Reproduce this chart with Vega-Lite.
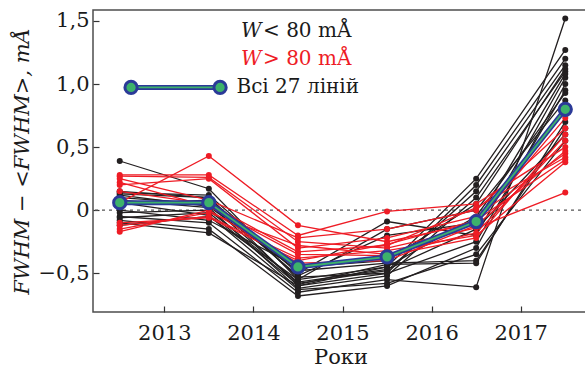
{
  "$schema": "https://vega.github.io/schema/vega-lite/v6.json",
  "autosize": "none",
  "width": 495,
  "height": 302,
  "padding": {"left": 93, "top": 10, "right": 0, "bottom": 60},
  "background": "white",
  "config": {
    "view": {"stroke": "#4d4d4d", "strokeWidth": 1.5},
    "font": "DejaVu Serif",
    "axis": {"grid": false, "domain": false, "tickColor": "#333", "tickSize": -6, "tickWidth": 1.2,
      "labelFont": "DejaVu Serif", "labelFontSize": 21, "labelColor": "#1a1a1a",
      "titleFont": "DejaVu Serif", "titleFontSize": 21, "titleColor": "#1a1a1a", "titleFontWeight": "normal"}
  },
  "datasets": {
    "lines": [
      {"l": "B1", "g": "lt", "x": 2012.5, "v": 0.39}, {"l": "B1", "g": "lt", "x": 2013.5, "v": 0.17}, {"l": "B1", "g": "lt", "x": 2014.5, "v": -0.55}, {"l": "B1", "g": "lt", "x": 2015.5, "v": -0.45}, {"l": "B1", "g": "lt", "x": 2016.5, "v": 0.25}, {"l": "B1", "g": "lt", "x": 2017.5, "v": 1.27},
      {"l": "B2", "g": "lt", "x": 2012.5, "v": 0.13}, {"l": "B2", "g": "lt", "x": 2013.5, "v": 0.10}, {"l": "B2", "g": "lt", "x": 2014.5, "v": -0.60}, {"l": "B2", "g": "lt", "x": 2015.5, "v": -0.50}, {"l": "B2", "g": "lt", "x": 2016.5, "v": 0.20}, {"l": "B2", "g": "lt", "x": 2017.5, "v": 1.20},
      {"l": "B3", "g": "lt", "x": 2012.5, "v": 0.10}, {"l": "B3", "g": "lt", "x": 2013.5, "v": 0.05}, {"l": "B3", "g": "lt", "x": 2014.5, "v": -0.58}, {"l": "B3", "g": "lt", "x": 2015.5, "v": -0.48}, {"l": "B3", "g": "lt", "x": 2016.5, "v": 0.15}, {"l": "B3", "g": "lt", "x": 2017.5, "v": 1.15},
      {"l": "B4", "g": "lt", "x": 2012.5, "v": 0.08}, {"l": "B4", "g": "lt", "x": 2013.5, "v": 0.02}, {"l": "B4", "g": "lt", "x": 2014.5, "v": -0.62}, {"l": "B4", "g": "lt", "x": 2015.5, "v": -0.52}, {"l": "B4", "g": "lt", "x": 2016.5, "v": 0.10}, {"l": "B4", "g": "lt", "x": 2017.5, "v": 1.10},
      {"l": "B5", "g": "lt", "x": 2012.5, "v": 0.14}, {"l": "B5", "g": "lt", "x": 2013.5, "v": 0.12}, {"l": "B5", "g": "lt", "x": 2014.5, "v": -0.50}, {"l": "B5", "g": "lt", "x": 2015.5, "v": -0.09}, {"l": "B5", "g": "lt", "x": 2016.5, "v": -0.20}, {"l": "B5", "g": "lt", "x": 2017.5, "v": 1.05},
      {"l": "B6", "g": "lt", "x": 2012.5, "v": -0.05}, {"l": "B6", "g": "lt", "x": 2013.5, "v": -0.10}, {"l": "B6", "g": "lt", "x": 2014.5, "v": -0.65}, {"l": "B6", "g": "lt", "x": 2015.5, "v": -0.55}, {"l": "B6", "g": "lt", "x": 2016.5, "v": -0.61}, {"l": "B6", "g": "lt", "x": 2017.5, "v": 1.52},
      {"l": "B7", "g": "lt", "x": 2012.5, "v": -0.08}, {"l": "B7", "g": "lt", "x": 2013.5, "v": -0.15}, {"l": "B7", "g": "lt", "x": 2014.5, "v": -0.68}, {"l": "B7", "g": "lt", "x": 2015.5, "v": -0.60}, {"l": "B7", "g": "lt", "x": 2016.5, "v": -0.30}, {"l": "B7", "g": "lt", "x": 2017.5, "v": 1.00},
      {"l": "B8", "g": "lt", "x": 2012.5, "v": -0.10}, {"l": "B8", "g": "lt", "x": 2013.5, "v": -0.18}, {"l": "B8", "g": "lt", "x": 2014.5, "v": -0.60}, {"l": "B8", "g": "lt", "x": 2015.5, "v": -0.45}, {"l": "B8", "g": "lt", "x": 2016.5, "v": -0.05}, {"l": "B8", "g": "lt", "x": 2017.5, "v": 0.93},
      {"l": "B9", "g": "lt", "x": 2012.5, "v": -0.12}, {"l": "B9", "g": "lt", "x": 2013.5, "v": -0.05}, {"l": "B9", "g": "lt", "x": 2014.5, "v": -0.55}, {"l": "B9", "g": "lt", "x": 2015.5, "v": -0.15}, {"l": "B9", "g": "lt", "x": 2016.5, "v": 0.00}, {"l": "B9", "g": "lt", "x": 2017.5, "v": 0.87},
      {"l": "B10", "g": "lt", "x": 2012.5, "v": 0.05}, {"l": "B10", "g": "lt", "x": 2013.5, "v": 0.08}, {"l": "B10", "g": "lt", "x": 2014.5, "v": -0.52}, {"l": "B10", "g": "lt", "x": 2015.5, "v": -0.20}, {"l": "B10", "g": "lt", "x": 2016.5, "v": -0.10}, {"l": "B10", "g": "lt", "x": 2017.5, "v": 1.08},
      {"l": "B11", "g": "lt", "x": 2012.5, "v": 0.12}, {"l": "B11", "g": "lt", "x": 2013.5, "v": 0.03}, {"l": "B11", "g": "lt", "x": 2014.5, "v": -0.48}, {"l": "B11", "g": "lt", "x": 2015.5, "v": -0.42}, {"l": "B11", "g": "lt", "x": 2016.5, "v": -0.40}, {"l": "B11", "g": "lt", "x": 2017.5, "v": 0.65},
      {"l": "B12", "g": "lt", "x": 2012.5, "v": -0.02}, {"l": "B12", "g": "lt", "x": 2013.5, "v": 0.00}, {"l": "B12", "g": "lt", "x": 2014.5, "v": -0.57}, {"l": "B12", "g": "lt", "x": 2015.5, "v": -0.47}, {"l": "B12", "g": "lt", "x": 2016.5, "v": -0.15}, {"l": "B12", "g": "lt", "x": 2017.5, "v": 0.60},
      {"l": "B13", "g": "lt", "x": 2012.5, "v": 0.06}, {"l": "B13", "g": "lt", "x": 2013.5, "v": -0.04}, {"l": "B13", "g": "lt", "x": 2014.5, "v": -0.63}, {"l": "B13", "g": "lt", "x": 2015.5, "v": -0.58}, {"l": "B13", "g": "lt", "x": 2016.5, "v": -0.35}, {"l": "B13", "g": "lt", "x": 2017.5, "v": 0.55},
      {"l": "B14", "g": "lt", "x": 2012.5, "v": 0.00}, {"l": "B14", "g": "lt", "x": 2013.5, "v": -0.08}, {"l": "B14", "g": "lt", "x": 2014.5, "v": -0.45}, {"l": "B14", "g": "lt", "x": 2015.5, "v": -0.40}, {"l": "B14", "g": "lt", "x": 2016.5, "v": 0.05}, {"l": "B14", "g": "lt", "x": 2017.5, "v": 1.12},
      {"l": "B15", "g": "lt", "x": 2012.5, "v": 0.15}, {"l": "B15", "g": "lt", "x": 2013.5, "v": 0.10}, {"l": "B15", "g": "lt", "x": 2014.5, "v": -0.53}, {"l": "B15", "g": "lt", "x": 2015.5, "v": -0.50}, {"l": "B15", "g": "lt", "x": 2016.5, "v": -0.25}, {"l": "B15", "g": "lt", "x": 2017.5, "v": 0.95},
      {"l": "B16", "g": "lt", "x": 2012.5, "v": -0.06}, {"l": "B16", "g": "lt", "x": 2013.5, "v": -0.02}, {"l": "B16", "g": "lt", "x": 2014.5, "v": -0.59}, {"l": "B16", "g": "lt", "x": 2015.5, "v": -0.43}, {"l": "B16", "g": "lt", "x": 2016.5, "v": -0.42}, {"l": "B16", "g": "lt", "x": 2017.5, "v": 0.70},
      {"l": "R1", "g": "gt", "x": 2012.5, "v": 0.06}, {"l": "R1", "g": "gt", "x": 2013.5, "v": 0.43}, {"l": "R1", "g": "gt", "x": 2014.5, "v": -0.12}, {"l": "R1", "g": "gt", "x": 2015.5, "v": -0.25}, {"l": "R1", "g": "gt", "x": 2016.5, "v": -0.10}, {"l": "R1", "g": "gt", "x": 2017.5, "v": 0.73},
      {"l": "R2", "g": "gt", "x": 2012.5, "v": 0.28}, {"l": "R2", "g": "gt", "x": 2013.5, "v": 0.28}, {"l": "R2", "g": "gt", "x": 2014.5, "v": -0.20}, {"l": "R2", "g": "gt", "x": 2015.5, "v": -0.01}, {"l": "R2", "g": "gt", "x": 2016.5, "v": 0.05}, {"l": "R2", "g": "gt", "x": 2017.5, "v": 0.50},
      {"l": "R3", "g": "gt", "x": 2012.5, "v": 0.27}, {"l": "R3", "g": "gt", "x": 2013.5, "v": 0.26}, {"l": "R3", "g": "gt", "x": 2014.5, "v": -0.25}, {"l": "R3", "g": "gt", "x": 2015.5, "v": -0.30}, {"l": "R3", "g": "gt", "x": 2016.5, "v": -0.14}, {"l": "R3", "g": "gt", "x": 2017.5, "v": 0.14},
      {"l": "R4", "g": "gt", "x": 2012.5, "v": 0.20}, {"l": "R4", "g": "gt", "x": 2013.5, "v": 0.25}, {"l": "R4", "g": "gt", "x": 2014.5, "v": -0.30}, {"l": "R4", "g": "gt", "x": 2015.5, "v": -0.22}, {"l": "R4", "g": "gt", "x": 2016.5, "v": -0.05}, {"l": "R4", "g": "gt", "x": 2017.5, "v": 0.45},
      {"l": "R5", "g": "gt", "x": 2012.5, "v": 0.15}, {"l": "R5", "g": "gt", "x": 2013.5, "v": 0.05}, {"l": "R5", "g": "gt", "x": 2014.5, "v": -0.33}, {"l": "R5", "g": "gt", "x": 2015.5, "v": -0.28}, {"l": "R5", "g": "gt", "x": 2016.5, "v": 0.02}, {"l": "R5", "g": "gt", "x": 2017.5, "v": 0.42},
      {"l": "R6", "g": "gt", "x": 2012.5, "v": -0.12}, {"l": "R6", "g": "gt", "x": 2013.5, "v": -0.05}, {"l": "R6", "g": "gt", "x": 2014.5, "v": -0.38}, {"l": "R6", "g": "gt", "x": 2015.5, "v": -0.32}, {"l": "R6", "g": "gt", "x": 2016.5, "v": -0.20}, {"l": "R6", "g": "gt", "x": 2017.5, "v": 0.38},
      {"l": "R7", "g": "gt", "x": 2012.5, "v": -0.15}, {"l": "R7", "g": "gt", "x": 2013.5, "v": -0.02}, {"l": "R7", "g": "gt", "x": 2014.5, "v": -0.28}, {"l": "R7", "g": "gt", "x": 2015.5, "v": -0.35}, {"l": "R7", "g": "gt", "x": 2016.5, "v": -0.18}, {"l": "R7", "g": "gt", "x": 2017.5, "v": 0.55},
      {"l": "R8", "g": "gt", "x": 2012.5, "v": -0.17}, {"l": "R8", "g": "gt", "x": 2013.5, "v": 0.00}, {"l": "R8", "g": "gt", "x": 2014.5, "v": -0.42}, {"l": "R8", "g": "gt", "x": 2015.5, "v": -0.40}, {"l": "R8", "g": "gt", "x": 2016.5, "v": -0.12}, {"l": "R8", "g": "gt", "x": 2017.5, "v": 0.47},
      {"l": "R9", "g": "gt", "x": 2012.5, "v": 0.22}, {"l": "R9", "g": "gt", "x": 2013.5, "v": 0.03}, {"l": "R9", "g": "gt", "x": 2014.5, "v": -0.35}, {"l": "R9", "g": "gt", "x": 2015.5, "v": -0.36}, {"l": "R9", "g": "gt", "x": 2016.5, "v": -0.22}, {"l": "R9", "g": "gt", "x": 2017.5, "v": 0.60},
      {"l": "R10", "g": "gt", "x": 2012.5, "v": -0.10}, {"l": "R10", "g": "gt", "x": 2013.5, "v": -0.06}, {"l": "R10", "g": "gt", "x": 2014.5, "v": -0.40}, {"l": "R10", "g": "gt", "x": 2015.5, "v": -0.27}, {"l": "R10", "g": "gt", "x": 2016.5, "v": -0.08}, {"l": "R10", "g": "gt", "x": 2017.5, "v": 0.40},
      {"l": "R11", "g": "gt", "x": 2012.5, "v": 0.25}, {"l": "R11", "g": "gt", "x": 2013.5, "v": 0.08}, {"l": "R11", "g": "gt", "x": 2014.5, "v": -0.22}, {"l": "R11", "g": "gt", "x": 2015.5, "v": -0.15}, {"l": "R11", "g": "gt", "x": 2016.5, "v": 0.00}, {"l": "R11", "g": "gt", "x": 2017.5, "v": 0.65}
    ],
    "mean": [
      {"x": 2012.5, "v": 0.06}, {"x": 2013.5, "v": 0.06}, {"x": 2014.5, "v": -0.45},
      {"x": 2015.5, "v": -0.37}, {"x": 2016.5, "v": -0.09}, {"x": 2017.5, "v": 0.80}
    ],
    "one": [{"k": 1}]
  },
  "encoding": {
    "x": {"type": "quantitative", "scale": {"domain": [2012.2, 2017.755], "nice": false, "zero": false},
      "axis": {"values": [2013, 2014, 2015, 2016, 2017], "format": "d", "title": "Роки", "labelPadding": 16, "titlePadding": 3}},
    "y": {"type": "quantitative", "scale": {"domain": [-0.807, 1.587], "nice": false, "zero": false},
      "axis": {"values": [-0.5, 0, 0.5, 1, 1.5], "labelExpr": "datum.value == 0 ? '0' : replace(replace(format(datum.value, '.1f'), '.', ','), '-', '−')",
        "title": "FWHM − <FWHM>, mÅ", "titleFontStyle": "italic", "labelPadding": 10, "titlePadding": 6}}
  },
  "layer": [
    {"data": {"name": "one"}, "mark": {"type": "rule", "color": "#555", "strokeDash": [3, 4], "strokeWidth": 1.2},
      "encoding": {"y": {"datum": 0}}},
    {"data": {"name": "lines"}, "mark": {"type": "line", "strokeWidth": 1.3},
      "encoding": {"x": {"field": "x"}, "y": {"field": "v"}, "detail": {"field": "l"},
        "color": {"field": "g", "type": "nominal", "scale": {"domain": ["lt", "gt"], "range": ["#231f20", "#ee1c25"]}, "legend": null}}},
    {"data": {"name": "lines"}, "mark": {"type": "point", "filled": true, "size": 36, "opacity": 1},
      "encoding": {"x": {"field": "x"}, "y": {"field": "v"},
        "color": {"field": "g", "type": "nominal", "scale": {"domain": ["lt", "gt"], "range": ["#231f20", "#ee1c25"]}, "legend": null}}},
    {"data": {"name": "mean"}, "mark": {"type": "line", "color": "#2b3a98", "strokeWidth": 5},
      "encoding": {"x": {"field": "x"}, "y": {"field": "v"}}},
    {"data": {"name": "mean"}, "mark": {"type": "line", "color": "#3db26b", "strokeWidth": 1.8},
      "encoding": {"x": {"field": "x"}, "y": {"field": "v"}}},
    {"data": {"name": "mean"}, "mark": {"type": "point", "filled": true, "fill": "#3db26b", "stroke": "#2b3a98", "strokeWidth": 3, "size": 150, "opacity": 1},
      "encoding": {"x": {"field": "x"}, "y": {"field": "v"}}},
    {"data": {"name": "one"}, "mark": {"type": "rule", "color": "#2b3a98", "strokeWidth": 5},
      "encoding": {"x": {"datum": 2012.627}, "x2": {"datum": 2013.626}, "y": {"datum": 0.973}}},
    {"data": {"name": "one"}, "mark": {"type": "rule", "color": "#3db26b", "strokeWidth": 1.8},
      "encoding": {"x": {"datum": 2012.627}, "x2": {"datum": 2013.626}, "y": {"datum": 0.973}}},
    {"data": {"name": "one"}, "mark": {"type": "point", "filled": true, "fill": "#3db26b", "stroke": "#2b3a98", "strokeWidth": 3, "size": 150, "opacity": 1},
      "encoding": {"x": {"datum": 2012.627}, "y": {"datum": 0.973}}},
    {"data": {"name": "one"}, "mark": {"type": "point", "filled": true, "fill": "#3db26b", "stroke": "#2b3a98", "strokeWidth": 3, "size": 150, "opacity": 1},
      "encoding": {"x": {"datum": 2013.626}, "y": {"datum": 0.973}}},
    {"data": {"name": "one"}, "mark": {"type": "text", "text": "W", "font": "DejaVu Serif", "fontStyle": "italic", "fontSize": 20, "align": "left", "baseline": "middle", "color": "#1a1a1a"},
      "encoding": {"x": {"datum": 2013.86}, "y": {"datum": 1.417}}},
    {"data": {"name": "one"}, "mark": {"type": "text", "text": "< 80 mÅ", "font": "DejaVu Serif", "fontSize": 20, "align": "left", "baseline": "middle", "color": "#1a1a1a"},
      "encoding": {"x": {"datum": 2014.108}, "y": {"datum": 1.417}}},
    {"data": {"name": "one"}, "mark": {"type": "text", "text": "W", "font": "DejaVu Serif", "fontStyle": "italic", "fontSize": 20, "align": "left", "baseline": "middle", "color": "#ee1c25"},
      "encoding": {"x": {"datum": 2013.86}, "y": {"datum": 1.195}}},
    {"data": {"name": "one"}, "mark": {"type": "text", "text": "> 80 mÅ", "font": "DejaVu Serif", "fontSize": 20, "align": "left", "baseline": "middle", "color": "#ee1c25"},
      "encoding": {"x": {"datum": 2014.108}, "y": {"datum": 1.195}}},
    {"data": {"name": "one"}, "mark": {"type": "text", "text": "Всі 27 ліній", "font": "DejaVu Serif", "fontSize": 20, "align": "left", "baseline": "middle", "color": "#1a1a1a"},
      "encoding": {"x": {"datum": 2013.81}, "y": {"datum": 0.973}}}
  ]
}
